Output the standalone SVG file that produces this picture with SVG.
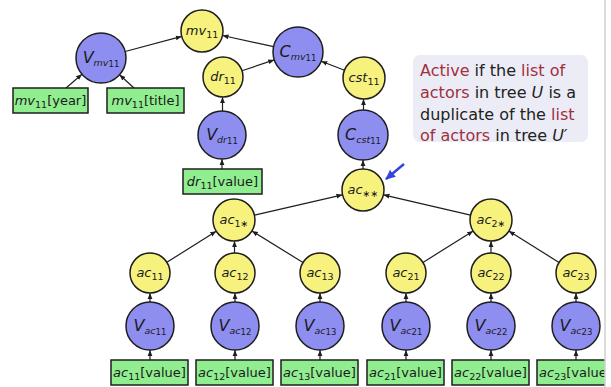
<svg xmlns="http://www.w3.org/2000/svg" width="611" height="387" viewBox="0 0 611 387">
<defs>
<style>
.y{fill:#f7f27e;stroke:#1e1e1e;stroke-width:1.5}
.b{fill:#8e8ef0;stroke:#1e1e1e;stroke-width:1.5}
.g{fill:#90ee90;stroke:#1e1e1e;stroke-width:1.5}
.t{font-family:"DejaVu Sans",sans-serif;font-size:13px;fill:#1a1a1a;text-anchor:middle}
.i{font-style:italic}
.s{font-size:9.5px}
.ss{font-size:8.5px}
.V{font-size:16px;font-style:italic}
.e line{stroke:#1e1e1e;stroke-width:1.2;marker-end:url(#a)}
.c{font-family:"DejaVu Sans",sans-serif;font-size:16px;fill:#222}
.r{fill:#a0303f}
</style>
<marker id="a" viewBox="0 0 10 10" refX="10" refY="5" markerWidth="6" markerHeight="6" markerUnits="userSpaceOnUse" orient="auto">
<path d="M0,1 L10,5 L0,9 z" fill="#1e1e1e"/>
</marker>
<marker id="ab" viewBox="0 0 10 10" refX="9" refY="5" markerWidth="10" markerHeight="10" markerUnits="userSpaceOnUse" orient="auto">
<path d="M0,0.5 L10,5 L0,9.5 z" fill="#3444e0"/>
</marker>
</defs>
<rect width="611" height="387" fill="#fff"/>

<g id="callout">
<rect x="413" y="55" width="175" height="87" rx="7" fill="#ececf6"/>
<text class="c" x="420" y="76"><tspan class="r">Active</tspan> if the <tspan class="r">list of</tspan></text>
<text class="c" x="420" y="98"><tspan class="r">actors</tspan> in tree <tspan class="i">U</tspan> is a</text>
<text class="c" x="420" y="120">duplicate of the <tspan class="r">list</tspan></text>
<text class="c" x="420" y="141"><tspan class="r">of actors</tspan> in tree <tspan class="i">U′</tspan></text>
</g>

<g id="connectors" class="e">
<line x1="125.2" y1="51.5" x2="181.7" y2="36.4"/>
<line x1="273.6" y1="46.7" x2="222.5" y2="35.5"/>
<line x1="66" y1="88" x2="82" y2="74.3"/>
<line x1="134" y1="88" x2="119.5" y2="74.8"/>
<line x1="242" y1="70.7" x2="274.3" y2="59.9"/>
<line x1="344.5" y1="70.3" x2="321.3" y2="61.2"/>
<line x1="222.5" y1="111" x2="222.5" y2="97"/>
<line x1="222" y1="169" x2="222" y2="159"/>
<line x1="363.5" y1="110" x2="363.5" y2="99"/>
<line x1="363" y1="169" x2="363" y2="160"/>
<line x1="254.5" y1="215.2" x2="342.5" y2="194.8"/>
<line x1="470.6" y1="215.2" x2="383.4" y2="194.8"/>
<line x1="166.9" y1="262.3" x2="216.2" y2="231.2"/>
<line x1="234.5" y1="253" x2="234.5" y2="241"/>
<line x1="303" y1="262.5" x2="251.9" y2="231"/>
<line x1="423" y1="262.4" x2="473.2" y2="231.1"/>
<line x1="491" y1="253" x2="491" y2="241"/>
<line x1="559" y1="262.4" x2="508.8" y2="231.1"/>
<line x1="150" y1="302" x2="150" y2="293"/>
<line x1="235" y1="302" x2="235" y2="293"/>
<line x1="320" y1="302" x2="320" y2="293"/>
<line x1="406" y1="302" x2="406" y2="293"/>
<line x1="491" y1="302" x2="491" y2="293"/>
<line x1="576" y1="302" x2="576" y2="293"/>
<line x1="150" y1="360" x2="150" y2="350"/>
<line x1="235" y1="360" x2="235" y2="350"/>
<line x1="320" y1="360" x2="320" y2="350"/>
<line x1="406" y1="360" x2="406" y2="350"/>
<line x1="491" y1="360" x2="491" y2="350"/>
<line x1="576" y1="360" x2="576" y2="350"/>
<line x1="404" y1="164" x2="386" y2="179" style="stroke:#3444e0;stroke-width:2.5;marker-end:url(#ab)"/>
</g>

<g id="mv11"><circle class="y" cx="202" cy="31" r="21"/><text class="t" x="202" y="35"><tspan class="i">mv</tspan><tspan class="s" dy="3">11</tspan></text></g>
<g id="V_mv11"><circle class="b" cx="101" cy="58" r="25"/><text class="t" x="101" y="63"><tspan class="V">V</tspan><tspan class="s i" dy="3">mv</tspan><tspan class="ss" dy="1">11</tspan></text></g>
<g id="mv11_year"><rect class="g" x="13" y="88" width="75" height="25"/><text class="t" x="50.5" y="105"><tspan class="i">mv</tspan><tspan class="s" dy="3">11</tspan><tspan dy="-3">[year]</tspan></text></g>
<g id="mv11_title"><rect class="g" x="107" y="88" width="77" height="25"/><text class="t" x="145.5" y="105"><tspan class="i">mv</tspan><tspan class="s" dy="3">11</tspan><tspan dy="-3">[title]</tspan></text></g>
<g id="C_mv11"><circle class="b" cx="298" cy="52" r="25"/><text class="t" x="298" y="57"><tspan class="V">C</tspan><tspan class="s i" dy="3">mv</tspan><tspan class="ss" dy="1">11</tspan></text></g>
<g id="dr11"><circle class="y" cx="223" cy="77" r="20"/><text class="t" x="223" y="81"><tspan class="i">dr</tspan><tspan class="s" dy="3">11</tspan></text></g>
<g id="cst11"><circle class="y" cx="364" cy="78" r="21"/><text class="t" x="364" y="82"><tspan class="i">cst</tspan><tspan class="s" dy="3">11</tspan></text></g>
<g id="V_dr11"><circle class="b" cx="222" cy="135" r="24"/><text class="t" x="222" y="140"><tspan class="V">V</tspan><tspan class="s i" dy="3">dr</tspan><tspan class="ss" dy="1">11</tspan></text></g>
<g id="C_cst11"><circle class="b" cx="363" cy="135" r="25"/><text class="t" x="363" y="140"><tspan class="V">C</tspan><tspan class="s i" dy="3">cst</tspan><tspan class="ss" dy="1">11</tspan></text></g>
<g id="dr11_value"><rect class="g" x="183" y="169" width="79" height="25"/><text class="t" x="222.5" y="186"><tspan class="i">dr</tspan><tspan class="s" dy="3">11</tspan><tspan dy="-3">[value]</tspan></text></g>
<g id="ac_ss"><circle class="y" cx="363" cy="190" r="21"/><text class="t" x="363" y="194"><tspan class="i">ac</tspan><tspan class="s" dy="3">∗∗</tspan></text></g>
<g id="ac1s"><circle class="y" cx="234" cy="220" r="21"/><text class="t" x="234" y="224"><tspan class="i">ac</tspan><tspan class="s" dy="3">1∗</tspan></text></g>
<g id="ac2s"><circle class="y" cx="491" cy="220" r="21"/><text class="t" x="491" y="224"><tspan class="i">ac</tspan><tspan class="s" dy="3">2∗</tspan></text></g>

<g id="ac11"><circle class="y" cx="150" cy="273" r="20"/><text class="t" x="150" y="277"><tspan class="i">ac</tspan><tspan class="s" dy="3">11</tspan></text></g>
<g id="ac12"><circle class="y" cx="235" cy="273" r="20"/><text class="t" x="235" y="277"><tspan class="i">ac</tspan><tspan class="s" dy="3">12</tspan></text></g>
<g id="ac13"><circle class="y" cx="320" cy="273" r="20"/><text class="t" x="320" y="277"><tspan class="i">ac</tspan><tspan class="s" dy="3">13</tspan></text></g>
<g id="ac21"><circle class="y" cx="406" cy="273" r="20"/><text class="t" x="406" y="277"><tspan class="i">ac</tspan><tspan class="s" dy="3">21</tspan></text></g>
<g id="ac22"><circle class="y" cx="491" cy="273" r="20"/><text class="t" x="491" y="277"><tspan class="i">ac</tspan><tspan class="s" dy="3">22</tspan></text></g>
<g id="ac23"><circle class="y" cx="576" cy="273" r="20"/><text class="t" x="576" y="277"><tspan class="i">ac</tspan><tspan class="s" dy="3">23</tspan></text></g>

<g id="V_ac11"><circle class="b" cx="150" cy="326" r="24"/><text class="t" x="150" y="331"><tspan class="V">V</tspan><tspan class="s i" dy="3">ac</tspan><tspan class="ss" dy="1">11</tspan></text></g>
<g id="V_ac12"><circle class="b" cx="235" cy="326" r="24"/><text class="t" x="235" y="331"><tspan class="V">V</tspan><tspan class="s i" dy="3">ac</tspan><tspan class="ss" dy="1">12</tspan></text></g>
<g id="V_ac13"><circle class="b" cx="320" cy="326" r="24"/><text class="t" x="320" y="331"><tspan class="V">V</tspan><tspan class="s i" dy="3">ac</tspan><tspan class="ss" dy="1">13</tspan></text></g>
<g id="V_ac21"><circle class="b" cx="406" cy="326" r="24"/><text class="t" x="406" y="331"><tspan class="V">V</tspan><tspan class="s i" dy="3">ac</tspan><tspan class="ss" dy="1">21</tspan></text></g>
<g id="V_ac22"><circle class="b" cx="491" cy="326" r="24"/><text class="t" x="491" y="331"><tspan class="V">V</tspan><tspan class="s i" dy="3">ac</tspan><tspan class="ss" dy="1">22</tspan></text></g>
<g id="V_ac23"><circle class="b" cx="576" cy="326" r="24"/><text class="t" x="576" y="331"><tspan class="V">V</tspan><tspan class="s i" dy="3">ac</tspan><tspan class="ss" dy="1">23</tspan></text></g>

<g id="ac11_value"><rect class="g" x="111" y="360" width="77" height="25"/><text class="t" x="149.5" y="377"><tspan class="i">ac</tspan><tspan class="s" dy="3">11</tspan><tspan dy="-3">[value]</tspan></text></g>
<g id="ac12_value"><rect class="g" x="196" y="360" width="77" height="25"/><text class="t" x="234.5" y="377"><tspan class="i">ac</tspan><tspan class="s" dy="3">12</tspan><tspan dy="-3">[value]</tspan></text></g>
<g id="ac13_value"><rect class="g" x="281" y="360" width="77" height="25"/><text class="t" x="319.5" y="377"><tspan class="i">ac</tspan><tspan class="s" dy="3">13</tspan><tspan dy="-3">[value]</tspan></text></g>
<g id="ac21_value"><rect class="g" x="367" y="360" width="77" height="25"/><text class="t" x="405.5" y="377"><tspan class="i">ac</tspan><tspan class="s" dy="3">21</tspan><tspan dy="-3">[value]</tspan></text></g>
<g id="ac22_value"><rect class="g" x="452" y="360" width="77" height="25"/><text class="t" x="490.5" y="377"><tspan class="i">ac</tspan><tspan class="s" dy="3">22</tspan><tspan dy="-3">[value]</tspan></text></g>
<g id="ac23_value"><rect class="g" x="537" y="360" width="77" height="25"/><text class="t" x="575.5" y="377"><tspan class="i">ac</tspan><tspan class="s" dy="3">23</tspan><tspan dy="-3">[value]</tspan></text></g>

<rect x="605" y="0" width="6" height="387" fill="#fff"/>
<line x1="605" y1="0" x2="605" y2="387" stroke="#d0d0d0" stroke-width="1.5"/>
</svg>
